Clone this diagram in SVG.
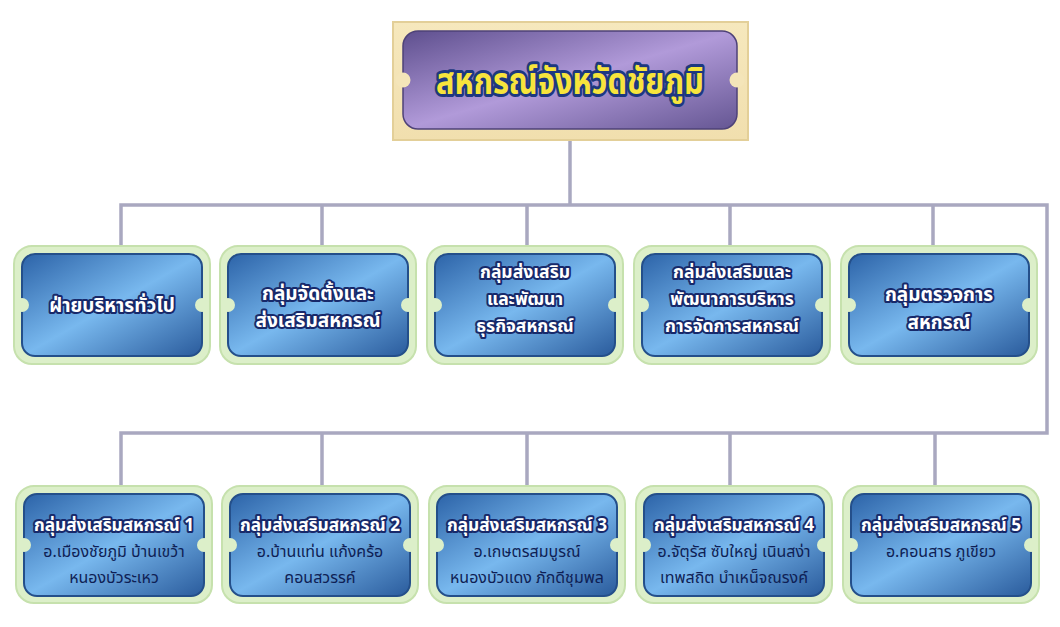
<svg xmlns="http://www.w3.org/2000/svg" width="1060" height="627" viewBox="0 0 1060 627">
<defs>
<linearGradient id="blue" x1="0" y1="0" x2="1" y2="1">
<stop offset="0" stop-color="#2c63a8"/>
<stop offset="0.5" stop-color="#78b8ee"/>
<stop offset="1" stop-color="#2a5b9c"/>
</linearGradient>
<linearGradient id="purple" x1="0" y1="0" x2="1" y2="1">
<stop offset="0" stop-color="#5e4f8e"/>
<stop offset="0.5" stop-color="#b19ad9"/>
<stop offset="1" stop-color="#655693"/>
</linearGradient>
<linearGradient id="beige" x1="0" y1="0" x2="0" y2="1">
<stop offset="0" stop-color="#f6e8bd"/>
<stop offset="1" stop-color="#f1dfae"/>
</linearGradient>
<style>
.frame{fill:#dcefc9;stroke:#c6e1ad;stroke-width:2}
.inner{fill:url(#blue);stroke:#244f8a;stroke-width:2}
.notch{fill:#dcefc9}
.conn{fill:none;stroke:#a9a8c0;stroke-width:3.5}
.h{font-family:"Noto Sans Thai","Noto Sans","DejaVu Sans",sans-serif;font-weight:bold;font-size:19px;fill:#ffffff;stroke:#17296a;stroke-width:4;stroke-linejoin:round;paint-order:stroke;text-anchor:middle}
.h3{font-size:17.5px}
.hs{font-size:17.5px}
.s{font-family:"Noto Sans Thai","Noto Sans","DejaVu Sans",sans-serif;font-size:16px;fill:#0f1f55;text-anchor:middle}
.t{font-family:"Noto Sans Thai","Noto Sans","DejaVu Sans",sans-serif;font-weight:bold;font-size:38px;fill:#f7e43c;stroke:#1d3880;stroke-width:6;stroke-linejoin:round;paint-order:stroke;text-anchor:middle}
</style>
</defs>
<rect width="1060" height="627" fill="#ffffff"/>
<g id="connectors">
<path class="conn" d="M570 140 V205"/>
<path class="conn" d="M121 246 V205 H1047 V433 H121 V486"/>
<path class="conn" d="M322 205 V246 M527 205 V246 M730 205 V246 M933 205 V246"/>
<path class="conn" d="M322 433 V486 M527 433 V486 M730 433 V486 M935 433 V486"/>
</g>
<g id="title">
<rect x="393" y="22" width="355" height="118" fill="url(#beige)" stroke="#e3cf98" stroke-width="2"/>
<rect x="403" y="31" width="334" height="98" rx="15" fill="url(#purple)" stroke="#4e4278" stroke-width="1.5"/>
<circle cx="403" cy="80" r="7.5" fill="#f4e5b9"/>
<circle cx="737" cy="80" r="7.5" fill="#f4e5b9"/>
<text class="t" x="570" y="94" textLength="268" lengthAdjust="spacingAndGlyphs">สหกรณ์จังหวัดชัยภูมิ</text>
</g>
<g id="n1">
<rect class="frame" x="14" y="246" width="196" height="118" rx="18"/>
<rect class="inner" x="22" y="254" width="180" height="102" rx="13"/>
<circle class="notch" cx="22" cy="305" r="7"/><circle class="notch" cx="202" cy="305" r="7"/>
<text class="h" x="112" y="312">ฝ่ายบริหารทั่วไป</text>
</g>
<g id="n2">
<rect class="frame" x="220" y="246" width="196" height="118" rx="18"/>
<rect class="inner" x="228" y="254" width="180" height="102" rx="13"/>
<circle class="notch" cx="228" cy="305" r="7"/><circle class="notch" cx="408" cy="305" r="7"/>
<text class="h" x="318" y="300">กลุ่มจัดตั้งและ</text>
<text class="h" x="318" y="327">ส่งเสริมสหกรณ์</text>
</g>
<g id="n3">
<rect class="frame" x="427" y="246" width="196" height="118" rx="18"/>
<rect class="inner" x="435" y="254" width="180" height="102" rx="13"/>
<circle class="notch" cx="435" cy="305" r="7"/><circle class="notch" cx="615" cy="305" r="7"/>
<text class="h h3" x="525" y="278">กลุ่มส่งเสริม</text>
<text class="h h3" x="525" y="305">และพัฒนา</text>
<text class="h h3" x="525" y="332">ธุรกิจสหกรณ์</text>
</g>
<g id="n4">
<rect class="frame" x="634" y="246" width="196" height="118" rx="18"/>
<rect class="inner" x="642" y="254" width="180" height="102" rx="13"/>
<circle class="notch" cx="642" cy="305" r="7"/><circle class="notch" cx="822" cy="305" r="7"/>
<text class="h h3" x="732" y="278">กลุ่มส่งเสริมและ</text>
<text class="h h3" x="732" y="305">พัฒนาการบริหาร</text>
<text class="h h3" x="732" y="332">การจัดการสหกรณ์</text>
</g>
<g id="n5">
<rect class="frame" x="841" y="246" width="196" height="118" rx="18"/>
<rect class="inner" x="849" y="254" width="180" height="102" rx="13"/>
<circle class="notch" cx="849" cy="305" r="7"/><circle class="notch" cx="1029" cy="305" r="7"/>
<text class="h" x="939" y="301">กลุ่มตรวจการ</text>
<text class="h" x="939" y="329">สหกรณ์</text>
</g>
<g id="m1">
<rect class="frame" x="16" y="486" width="196" height="117" rx="18"/>
<rect class="inner" x="24" y="494" width="180" height="102" rx="13"/>
<circle class="notch" cx="24" cy="545" r="7"/><circle class="notch" cx="204" cy="545" r="7"/>
<text class="h hs" x="114" y="531" textLength="160" lengthAdjust="spacingAndGlyphs">กลุ่มส่งเสริมสหกรณ์ 1</text>
<text class="s" x="114" y="557">อ.เมืองชัยภูมิ บ้านเขว้า</text>
<text class="s" x="114" y="583">หนองบัวระเหว</text>
</g>
<g id="m2">
<rect class="frame" x="222" y="486" width="196" height="117" rx="18"/>
<rect class="inner" x="230" y="494" width="180" height="102" rx="13"/>
<circle class="notch" cx="230" cy="545" r="7"/><circle class="notch" cx="410" cy="545" r="7"/>
<text class="h hs" x="320" y="531" textLength="160" lengthAdjust="spacingAndGlyphs">กลุ่มส่งเสริมสหกรณ์ 2</text>
<text class="s" x="320" y="557">อ.บ้านแท่น แก้งคร้อ</text>
<text class="s" x="320" y="583">คอนสวรรค์</text>
</g>
<g id="m3">
<rect class="frame" x="429" y="486" width="196" height="117" rx="18"/>
<rect class="inner" x="437" y="494" width="180" height="102" rx="13"/>
<circle class="notch" cx="437" cy="545" r="7"/><circle class="notch" cx="617" cy="545" r="7"/>
<text class="h hs" x="527" y="531" textLength="160" lengthAdjust="spacingAndGlyphs">กลุ่มส่งเสริมสหกรณ์ 3</text>
<text class="s" x="527" y="557">อ.เกษตรสมบูรณ์</text>
<text class="s" x="527" y="583">หนองบัวแดง ภักดีชุมพล</text>
</g>
<g id="m4">
<rect class="frame" x="636" y="486" width="196" height="117" rx="18"/>
<rect class="inner" x="644" y="494" width="180" height="102" rx="13"/>
<circle class="notch" cx="644" cy="545" r="7"/><circle class="notch" cx="824" cy="545" r="7"/>
<text class="h hs" x="734" y="531" textLength="160" lengthAdjust="spacingAndGlyphs">กลุ่มส่งเสริมสหกรณ์ 4</text>
<text class="s" x="734" y="557">อ.จัตุรัส ซับใหญ่ เนินสง่า</text>
<text class="s" x="734" y="583">เทพสถิต บำเหน็จณรงค์</text>
</g>
<g id="m5">
<rect class="frame" x="843" y="486" width="196" height="117" rx="18"/>
<rect class="inner" x="851" y="494" width="180" height="102" rx="13"/>
<circle class="notch" cx="851" cy="545" r="7"/><circle class="notch" cx="1031" cy="545" r="7"/>
<text class="h hs" x="941" y="531" textLength="160" lengthAdjust="spacingAndGlyphs">กลุ่มส่งเสริมสหกรณ์ 5</text>
<text class="s" x="941" y="557">อ.คอนสาร ภูเขียว</text>
</g>
</svg>
